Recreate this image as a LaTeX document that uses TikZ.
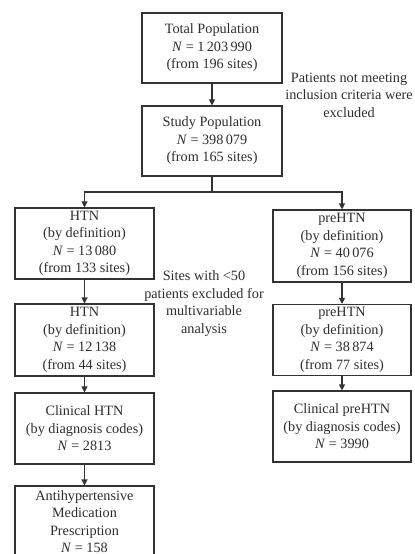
\documentclass[tikz,border=0pt]{standalone}
\usepackage{fontspec}
\setmainfont{Liberation Serif}
\usetikzlibrary{arrows.meta}
\definecolor{linec}{gray}{0.2}
\definecolor{textc}{gray}{0.18}
\begin{document}
\begin{tikzpicture}[x=1bp,y=-1bp,
  txt/.style={align=center, inner sep=0pt, text=textc, font=\fontsize{14.3}{17.6}\selectfont},
  box/.style={txt, draw=linec, line width=1.1bp},
  arr/.style={draw=linec, line width=1.1bp, -{Triangle[length=6bp,width=6bp]}},
  ln/.style={draw=linec, line width=1.1bp}]
\clip (0,0) rectangle (414,554);
\fill[white] (0,0) rectangle (414,554);
\node[box, minimum width=140bp, minimum height=70bp] (total) at (212,48)
  {Total Population\\\textit{N} = 1\,203\,990\\(from 196 sites)};
\node[box, minimum width=140bp, minimum height=70bp] (study) at (212,141)
  {Study Population\\\textit{N} = 398\,079\\(from 165 sites)};
\node[box, minimum width=139bp, minimum height=71bp] (htn1) at (84.5,243.5)
  {HTN\\(by definition)\\\textit{N} = 13\,080\\(from 133 sites)};
\node[box, minimum width=138bp, minimum height=72bp] (pre1) at (342,246)
  {preHTN\\(by definition)\\\textit{N} = 40\,076\\(from 156 sites)};
\node[box, minimum width=139bp, minimum height=72bp] (htn2) at (84.5,340)
  {HTN\\(by definition)\\\textit{N} = 12\,138\\(from 44 sites)};
\node[box, minimum width=138bp, minimum height=71bp] (pre2) at (342,340)
  {preHTN\\(by definition)\\\textit{N} = 38\,874\\(from 77 sites)};
\node[box, minimum width=139bp, minimum height=71bp] (htn3) at (84.5,428.5)
  {Clinical HTN\\(by diagnosis codes)\\\textit{N} = 2813};
\node[box, minimum width=138bp, minimum height=71bp] (pre3) at (342,426.5)
  {Clinical preHTN\\(by diagnosis codes)\\\textit{N} = 3990};
\node[box, minimum width=139bp, minimum height=71bp] (anti) at (84.5,521.5)
  {Antihypertensive\\Medication\\Prescription\\\textit{N} = 158};
\node[txt] (excl1) at (349,95) {Patients not meeting\\inclusion criteria were\\excluded};
\node[txt] (excl2) at (204,303.5) {Sites with <50\\patients excluded for\\multivariable\\analysis};
\coordinate (split) at (212,192);
\draw[arr] (total) -- (study);
\draw[ln] (study.south) -- (split);
\draw[arr] (split) -| (htn1.north);
\draw[arr] (split) -| (pre1.north);
\draw[arr] (htn1) -- (htn2);
\draw[arr] (pre1) -- (pre2);
\draw[arr] (htn2) -- (htn3);
\draw[arr] (pre2) -- (pre3);
\draw[arr] (htn3) -- (anti);
\end{tikzpicture}
\end{document}
